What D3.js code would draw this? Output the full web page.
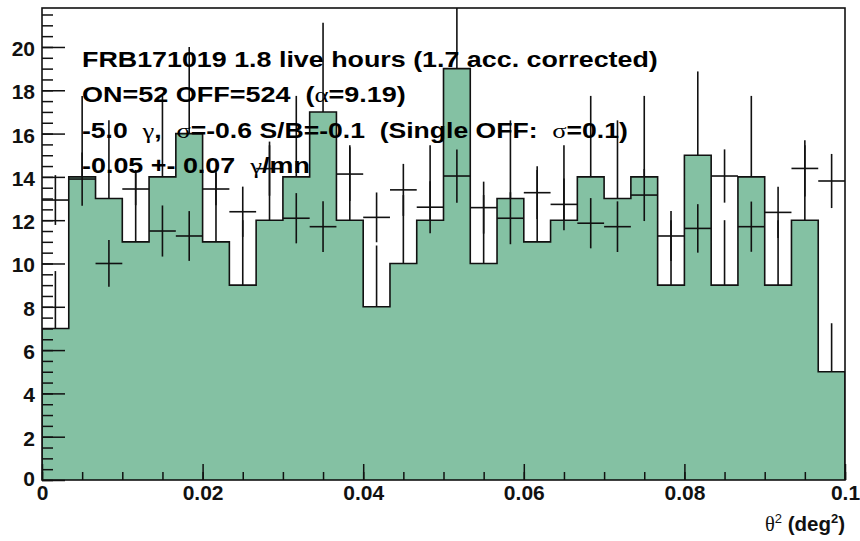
<!DOCTYPE html>
<html><head><meta charset="utf-8">
<script src="https://cdn.jsdelivr.net/npm/d3@7"></script>
<style>body{margin:0;background:#fff} svg{display:block}</style>
</head><body>
<svg id="c" width="860" height="541"></svg>
<script>
// ---- data ----
const binLow = 0, binHigh = 0.1, nBins = 30;
const onCounts = [7,14,13,11,14,16,11,9,12,14,17,12,8,10,12,19,10,13,11,12,14,13,14,9,15,9,14,9,12,5];
const onErrors = [2.65,3.74,3.61,3.32,3.74,4.0,3.32,3.0,3.46,3.74,4.12,3.46,2.83,3.16,3.46,4.36,3.16,3.61,3.32,3.46,3.74,3.61,3.74,3.0,3.87,3.0,3.74,3.0,3.46,2.24];
const offScaled = [12.93,13.9,10.0,13.44,11.5,11.27,13.44,12.39,14.38,12.09,11.7,14.13,12.13,13.4,12.6,14.04,12.58,12.09,13.27,12.73,11.86,11.7,13.16,11.27,11.62,14.04,11.7,12.36,14.39,13.81];
const offErrors = [1.15,1.23,1.08,0.75,1.18,1.15,0.75,1.16,1.25,1.16,1.17,1.24,1.15,1.2,1.2,1.23,1.2,1.2,1.22,1.2,1.16,1.17,1.2,1.15,1.12,1.23,1.16,1.18,1.3,1.25];
const xTicks = [0,0.02,0.04,0.06,0.08,0.1];
const xTickLabels = ["0","0.02","0.04","0.06","0.08","0.1"];
const yTicks = [0,2,4,6,8,10,12,14,16,18,20];
const yTickLabels = ["0","2","4","6","8","10","12","14","16","18","20"];
const infoLines = [
  [{t:"FRB171019 1.8 live hours (1.7 acc. corrected)"}],
  [{t:"ON=52 OFF=524  ("},{t:"α",g:1},{t:"=9.19)"}],
  [{t:"-5.0  "},{t:"γ",g:1},{t:",  "},{t:"σ",g:1},{t:"=-0.6 S/B=-0.1  (Single OFF:  "},{t:"σ",g:1},{t:"=0.1)"}],
  [{t:"-0.05 +- 0.07  "},{t:"γ",g:1},{t:"/mn"}]
];

// ---- layout ----
const svg = d3.select("#c");
const x = d3.scaleLinear().domain([binLow, binHigh]).range([42, 845]);
const y = d3.scaleLinear().domain([0, 21.8]).range([480, 8]);
const binW = (binHigh - binLow) / nBins;
const lo = i => binLow + i * binW, hi = i => binLow + (i + 1) * binW, mid = i => binLow + (i + 0.5) * binW;
const GREEN = "#84c1a3", INK = "#111";

svg.append("clipPath").attr("id","pc").append("rect")
  .attr("x",42).attr("y",8).attr("width",803).attr("height",472);
const g = svg.append("g").attr("clip-path","url(#pc)");

// error bars of the filled histogram (lower half gets covered by the fill)
g.selectAll("line.onerr").data(onCounts).join("line").attr("class","onerr")
  .attr("x1",(d,i)=>x(mid(i))).attr("x2",(d,i)=>x(mid(i)))
  .attr("y1",(d,i)=>y(d - onErrors[i])).attr("y2",(d,i)=>y(d + onErrors[i]))
  .attr("stroke",INK).attr("stroke-width",1.6);

// filled step histogram
const pts = [[x(binLow), y(0)]];
onCounts.forEach((d,i)=>{ pts.push([x(lo(i)), y(d)]); pts.push([x(hi(i)), y(d)]); });
pts.push([x(binHigh), y(0)]);
g.append("path").attr("d", d3.line()(pts)).attr("fill",GREEN).attr("stroke","none");
g.append("path").attr("d", d3.line()(pts)).attr("fill","none").attr("stroke",INK).attr("stroke-width",1.6);

// crosses
const cr = g.selectAll("g.cr").data(offScaled).join("g").attr("class","cr")
  .attr("stroke",INK).attr("stroke-width",1.6);
cr.append("line").attr("x1",(d,i)=>x(lo(i))).attr("x2",(d,i)=>x(hi(i)))
  .attr("y1",d=>y(d)).attr("y2",d=>y(d));
cr.append("line").attr("x1",(d,i)=>x(mid(i))).attr("x2",(d,i)=>x(mid(i)))
  .attr("y1",(d,i)=>y(d-offErrors[i])).attr("y2",(d,i)=>y(d+offErrors[i]));

// axes
const FONT = "'Liberation Sans', Arial, Helvetica, sans-serif";
const yAx = svg.append("g").attr("transform","translate(42,0)")
  .call(d3.axisLeft(y).tickValues(yTicks).tickFormat((d,i)=>yTickLabels[i]).tickSize(-23).tickPadding(7));
const yMin = svg.append("g").attr("transform","translate(42,0)")
  .call(d3.axisLeft(y).tickValues(d3.range(0, 21.8, 0.5)).tickFormat("").tickSize(-11));
const xAx = svg.append("g").attr("transform","translate(0,480)")
  .call(d3.axisBottom(x).tickValues(xTicks).tickFormat((d,i)=>xTickLabels[i]).tickSize(-16).tickPadding(7));
const xMin = svg.append("g").attr("transform","translate(0,480)")
  .call(d3.axisBottom(x).tickValues(d3.range(0, 0.1001, 0.005)).tickFormat("").tickSize(-8));
[yAx,yMin,xAx,xMin].forEach(a=>{ a.select(".domain").remove(); a.selectAll("line").attr("stroke",INK).attr("stroke-width",1.5); });
[yAx,xAx].forEach(a=>a.selectAll("text").attr("font-family",FONT).attr("font-weight","bold").attr("font-size",21).attr("fill",INK));
yAx.selectAll("text").attr("dy",null).attr("y",d=> d===0 ? 5 : 8.5);
xAx.selectAll("text").attr("dy",null).attr("y",20);

// frame
svg.append("rect").attr("x",42).attr("y",8).attr("width",803).attr("height",472)
  .attr("fill","none").attr("stroke",INK).attr("stroke-width",1.6);

// axis title
const at = svg.append("text").attr("x",845).attr("y",531).attr("text-anchor","end")
  .attr("font-family",FONT).attr("font-size",20.5).attr("font-weight","bold").attr("fill",INK);
at.append("tspan").attr("font-family","'Liberation Serif', serif").attr("font-weight","normal").text("θ");
at.append("tspan").attr("font-size",13).attr("dy",-8).attr("font-weight","normal").text("2");
at.append("tspan").attr("dy",8).text(" (deg");
at.append("tspan").attr("font-size",13).attr("dy",-8).text("2");
at.append("tspan").attr("dy",8).text(")");

// info text
const baselines = [67, 102, 138, 173];
const widths = [576, 324, 546, 228];
infoLines.forEach((segs, k) => {
  const t = svg.append("text").attr("x",0).attr("y",0)
    .attr("font-family",FONT).attr("font-weight","bold").attr("font-size",21.5)
    .attr("fill","#000").style("white-space","pre");
  segs.forEach(s => {
    const sp = t.append("tspan").text(s.t);
    if (s.g) sp.attr("font-family","'Liberation Serif', 'DejaVu Serif', serif").attr("font-weight","normal");
  });
  const w = t.node().getComputedTextLength();
  t.attr("transform", `translate(82,${baselines[k]}) scale(${widths[k]/w},1)`);
});
</script>
</body></html>
